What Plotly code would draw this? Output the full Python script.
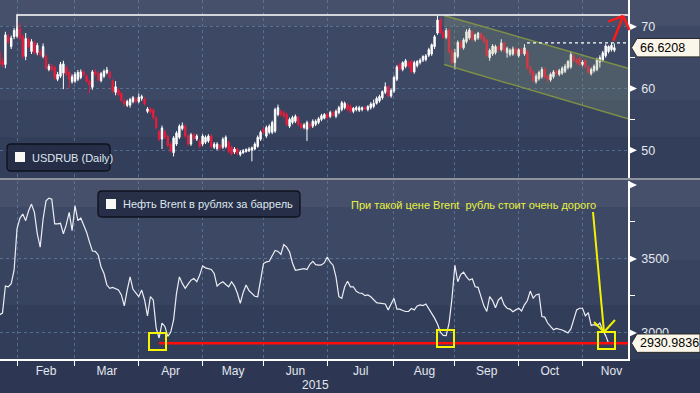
import plotly.graph_objects as go
import pandas as pd

# ---------------- data ----------------
trade_dates = pd.bdate_range("2015-01-23", periods=213)

usd_open = [65.8,64.4,63.9,68.4,66.8,68.4,68.5,69.7,68.4,65.2,68.0,66.0,67.4,65.8,66.0,65.2,65.2,63.1,63.6,63.4,
61.5,62.0,62.5,63.4,62.6,61.1,61.2,61.5,61.8,62.7,62.0,61.2,60.2,62.7,62.5,61.3,62.0,62.6,62.6,61.2,
59.4,59.8,59.2,58.0,57.3,57.3,57.9,58.3,57.9,58.4,58.3,56.3,56.7,56.5,55.2,53.0,51.8,53.0,52.2,51.0,
49.6,51.0,52.1,53.5,53.9,52.3,51.0,52.5,51.8,51.5,51.0,51.3,51.5,52.3,50.5,50.3,50.8,50.5,50.6,51.3,
50.5,49.7,50.2,49.3,49.6,49.8,49.9,50.0,50.2,50.6,51.8,53.4,52.3,52.9,52.9,53.1,55.8,56.3,56.1,55.8,
53.9,54.5,54.7,55.3,54.2,53.7,53.4,54.2,53.9,54.2,54.5,55.0,55.2,55.8,55.5,56.1,55.5,56.1,56.6,56.9,
57.4,57.1,56.3,56.6,56.5,56.6,56.9,56.6,56.9,57.1,57.6,58.0,58.5,59.4,60.3,58.8,59.6,61.5,63.9,63.1,
63.6,64.2,64.4,62.7,63.7,64.2,64.6,64.7,65.4,65.6,66.8,69.0,71.1,69.0,68.3,69.4,66.0,64.2,65.2,67.5,
66.6,67.6,68.2,69.2,67.9,68.2,68.9,68.4,67.8,65.0,65.6,65.8,66.8,66.3,67.4,65.8,65.5,65.6,66.5,65.3,
66.3,65.6,66.0,63.4,62.7,61.1,61.6,61.9,63.1,62.0,61.4,61.9,62.8,62.3,62.5,62.8,63.4,63.5,65.3,64.6,
64.9,63.9,64.5,63.5,62.4,62.9,63.1,64.3,64.6,65.3,66.0,66.3,66.2]
usd_high = [66.4,65.0,69.2,68.9,68.6,69.8,70.0,70.6,68.8,69.0,68.3,68.0,67.8,67.4,66.4,67.3,65.6,64.0,64.0,63.7,
62.7,64.3,64.5,63.7,62.9,62.3,62.7,63.0,63.1,63.0,62.3,61.5,63.0,63.2,62.8,62.7,63.1,63.5,62.9,61.5,
61.2,60.1,59.5,58.3,58.2,58.5,58.8,58.6,59.2,59.0,58.6,57.0,57.0,56.8,55.5,53.3,54.0,53.3,52.5,51.3,
52.3,53.1,54.2,54.5,54.2,52.6,52.8,52.8,52.6,51.8,52.6,52.4,52.6,52.6,51.3,51.3,51.0,52.1,52.4,51.6,
50.8,50.5,50.4,50.0,50.2,50.3,50.5,50.6,51.3,52.4,53.2,53.7,54.0,54.2,54.8,56.9,57.4,56.6,56.4,56.1,
55.3,55.6,55.8,55.6,54.5,54.4,54.8,54.5,55.0,55.0,55.4,55.9,56.0,56.1,56.4,56.4,56.6,57.2,58.0,57.9,
57.7,57.4,57.0,57.2,57.2,57.1,57.1,57.3,57.8,58.2,58.7,59.0,59.7,61.0,60.6,60.0,62.1,63.8,64.2,64.4,
64.8,64.5,64.7,64.5,64.6,64.9,65.4,65.6,66.6,67.3,68.7,71.8,71.5,69.5,69.8,69.8,66.4,66.4,67.8,67.8,
68.2,69.6,69.8,69.5,68.9,69.2,69.1,68.6,68.1,66.5,67.2,67.1,67.0,68.0,67.6,66.8,66.5,66.8,66.7,66.5,
66.6,67.2,66.3,63.7,63.0,62.4,62.9,63.5,63.4,62.3,62.6,63.0,63.1,63.2,63.6,64.0,64.6,66.0,65.6,64.9,
65.2,64.6,64.8,63.8,63.4,63.9,65.0,65.4,66.1,67.2,67.0,67.4,67.3]
usd_low = [63.5,63.4,63.3,67.2,66.4,68.0,68.2,67.8,64.9,64.6,66.5,65.6,65.5,65.4,65.1,64.9,63.0,62.8,62.8,61.4,
61.2,61.7,59.9,62.0,60.0,60.8,60.9,61.2,61.5,61.9,60.9,59.2,59.8,62.0,61.1,61.0,61.7,62.3,61.5,59.3,
58.9,58.7,57.8,57.1,57.0,56.9,57.6,57.6,57.6,58.0,57.2,56.0,55.9,55.0,53.4,51.5,50.2,51.8,50.5,49.6,
49.0,50.7,51.8,53.2,52.0,50.7,50.7,51.6,51.5,50.3,50.7,51.0,51.2,50.3,50.2,50.0,50.0,50.2,50.3,49.5,
49.1,49.4,49.2,49.0,49.4,49.6,49.7,48.2,50.0,50.4,51.5,52.6,52.0,52.6,52.6,52.8,55.5,55.5,55.2,53.9,
53.6,54.2,54.4,53.9,53.4,53.4,51.5,53.5,53.6,53.9,54.2,54.7,55.0,55.0,55.2,55.4,55.2,55.8,56.3,56.6,
56.3,56.0,56.0,56.3,56.2,56.3,56.5,56.3,56.6,56.8,57.4,57.7,58.2,59.1,58.6,58.5,59.3,61.2,62.9,62.8,
63.3,63.3,62.5,62.4,63.4,63.9,64.3,64.4,65.1,65.3,66.4,68.7,68.8,68.0,68.0,65.7,63.9,63.1,64.9,66.3,
66.3,67.3,67.9,67.6,67.6,67.9,67.9,67.3,65.1,64.5,65.3,65.5,66.0,66.0,65.8,65.0,65.2,65.3,65.4,65.0,
65.5,65.3,63.1,62.2,61.0,60.8,61.3,61.6,61.6,60.9,61.1,61.6,62.1,62.0,62.2,62.5,63.1,63.2,64.2,63.9,
63.6,63.6,63.3,62.3,62.1,62.6,62.8,63.4,64.3,65.0,65.7,66.0,65.9]
usd_close = [63.9,63.9,68.7,67.6,68.2,69.4,69.6,68.2,65.2,68.1,66.8,67.6,65.8,67.0,65.5,66.8,63.4,63.6,63.1,61.8,
62.3,63.9,64.0,62.3,61.5,61.9,62.3,62.6,62.7,62.2,61.2,60.6,62.7,62.4,61.4,62.4,62.8,63.0,61.8,59.6,
60.3,59.0,58.1,57.5,57.9,58.2,58.5,57.9,58.6,58.7,57.5,56.7,56.2,55.3,53.7,51.8,53.6,52.1,50.8,49.9,
52.0,52.8,53.9,54.0,52.3,51.0,52.5,51.9,52.3,50.6,52.3,52.1,52.3,50.6,51.0,51.0,50.3,51.8,52.1,49.8,
49.4,50.2,49.5,49.7,49.9,50.1,50.2,50.4,51.0,52.1,52.9,52.9,53.7,53.9,54.5,56.6,56.9,55.8,55.5,54.2,
55.0,55.3,55.5,54.2,53.7,54.1,54.5,53.8,54.7,54.7,55.1,55.6,55.8,55.3,56.1,55.7,56.3,56.9,57.7,57.6,
56.6,56.3,56.8,56.9,56.9,56.9,56.7,57.1,57.5,57.6,58.4,58.7,59.5,60.3,58.8,59.7,61.8,63.5,63.1,64.2,
64.5,63.6,62.7,64.2,64.4,64.6,65.2,65.3,66.3,67.1,68.4,71.1,69.0,68.3,69.4,66.0,64.2,65.8,67.5,66.6,
67.9,69.2,69.5,67.9,68.7,69.0,68.2,67.6,65.4,66.2,66.9,66.8,66.3,67.4,66.1,66.5,66.2,66.4,65.7,66.3,
65.8,66.6,63.4,62.6,61.3,62.0,62.6,63.1,61.9,61.5,62.3,62.7,62.4,62.9,63.3,63.6,64.4,65.5,64.5,64.2,
63.9,64.3,63.6,62.6,63.1,63.6,64.7,65.0,65.8,66.9,66.8,67.0,66.6208]

brent_rub = [3123,3134,3317,3312,3333,3424,3703,3775,3804,3759,3826,3871,3815,3670,3580,3770,3893,3911,3904,3737,
3737,3741,3670,3732,3815,3692,3860,3759,3777,3726,3681,3614,3554,3551,3527,3446,3402,3324,3301,3308,
3301,3290,3257,3183,3290,3379,3295,3272,3245,3290,3223,3116,3245,3223,3033,2966,3067,3044,2977,3004,
3089,3268,3379,3335,3301,3330,3357,3368,3346,3391,3453,3440,3435,3429,3402,3317,3335,3346,3328,3312,
3346,3317,3268,3201,3274,3324,3286,3268,3248,3245,3353,3469,3480,3484,3522,3558,3551,3531,3598,3580,
3547,3473,3424,3429,3429,3435,3429,3464,3484,3462,3458,3460,3475,3513,3478,3458,3379,3245,3234,3312,
3350,3312,3312,3281,3270,3268,3252,3257,3245,3221,3205,3201,3196,3196,3156,3196,3234,3161,3161,3152,
3145,3145,3165,3156,3183,3190,3185,3196,3167,3134,3100,3060,3006,2984,2982,3067,3234,3458,3346,3395,
3411,3379,3357,3366,3312,3308,3245,3183,3145,3245,3219,3170,3223,3241,3190,3167,3161,3143,3156,3167,
3149,3190,3219,3283,3236,3257,3263,3111,3107,3067,3044,3022,3031,3027,3020,3011,3000,3027,3094,3156,
3167,3167,3116,3138,3051,3056,3049,3067,3018,2982,2930.9836]

month_starts = ["2015-02-02", "2015-03-02", "2015-04-01", "2015-05-01", "2015-06-01",
                "2015-07-01", "2015-08-03", "2015-09-01", "2015-10-01", "2015-11-02"]
month_label_pos = ["2015-02-16", "2015-03-17", "2015-04-16", "2015-05-15 12:00", "2015-06-16",
                   "2015-07-16 12:00", "2015-08-17 12:00", "2015-09-16", "2015-10-15 18:00", "2015-11-16"]
month_labels = ["Feb", "Mar", "Apr", "May", "Jun", "Jul", "Aug", "Sep", "Oct", "Nov"]

usd_ticks = [50, 60, 70]
usd_minor = [55, 65]
brent_ticks = [3000, 3500]
brent_minor = [3250, 3750, 4000]

# drawn annotation levels
resist_x = ["2015-02-02", "2015-02-02"]
resist_y = [69.5, 71.9]
dotted_start = "2015-10-05 21:00"
dotted_level = 67.4
chan_start = "2015-08-26 07:00"
chan_upper = [71.85, 63.3]
chan_lower = [63.9, 55.1]

X_RANGE = ["2015-01-23 03:20", "2015-11-23 16:48"]
Y1_RANGE = [45.5, 74.35]
Y2_RANGE = [2824, 4027]

# ---------------- geometry helpers ----------------
W, H = 700, 393
ML, MR, MT, MB = 0, 72, 0, 34
PW, PH = W - ML - MR, H - MT - MB
TOP_PIX = (0, 178)
BOT_PIX = (181, 359)


def px(x):
    return (x - ML) / PW


def py(y):
    return 1 - (y - MT) / PH


def ypix(v, pix, rng):
    return pix[0] + (rng[1] - v) / (rng[1] - rng[0]) * (pix[1] - pix[0])


FONT = "Liberation Sans, Arial, sans-serif"
GRID = "rgba(95,125,160,0.75)"
TXT = "#e3e7ef"

fig = go.Figure()

# channel fill + lines
fig.add_trace(go.Scatter(x=[chan_start, X_RANGE[1], X_RANGE[1], chan_start],
                         y=[chan_upper[0], chan_upper[1], chan_lower[1], chan_lower[0]],
                         fill="toself", fillcolor="rgba(150,170,120,0.20)", line=dict(width=0),
                         mode="lines", hoverinfo="skip", showlegend=False, xaxis="x", yaxis="y"))
for lv in (chan_upper, chan_lower):
    fig.add_trace(go.Scatter(x=[chan_start, X_RANGE[1]], y=lv, mode="lines",
                             line=dict(color="rgba(135,155,65,0.85)", width=1.5),
                             hoverinfo="skip", showlegend=False, xaxis="x", yaxis="y"))

# resistance line
fig.add_trace(go.Scatter(x=resist_x + [X_RANGE[1]], y=resist_y + [resist_y[1]], mode="lines",
                         line=dict(color="white", width=1.5), hoverinfo="skip",
                         showlegend=False, xaxis="x", yaxis="y"))
# dotted level
fig.add_trace(go.Scatter(x=[dotted_start, X_RANGE[1]], y=[dotted_level, dotted_level], mode="lines",
                         line=dict(color="white", width=1.2, dash="dot"), hoverinfo="skip",
                         showlegend=False, xaxis="x", yaxis="y"))

fig.add_trace(go.Candlestick(
    x=trade_dates, open=usd_open, high=usd_high, low=usd_low, close=usd_close,
    increasing=dict(line=dict(color="white", width=1), fillcolor="white"),
    decreasing=dict(line=dict(color="#e41e3c", width=1), fillcolor="#e41e3c"),
    whiskerwidth=0, showlegend=False, xaxis="x", yaxis="y"))

fig.add_trace(go.Scatter(x=trade_dates[:len(brent_rub)], y=brent_rub, mode="lines",
                         line=dict(color="#eceef4", width=1.2), showlegend=False,
                         xaxis="x2", yaxis="y2"))

shapes = []
# background bands
bands = [(0, 26, "#46506b"), (26, 100, "#3d4865"), (100, 137, "#38435f"), (137, 179, "#333e5a"),
         (179, 207, "#46506b"), (207, 260, "#3d4865"), (260, 305, "#38435f"), (305, 359, "#323d59"),
         (359, 393, "#2d3753")]
for y0, y1, c in bands:
    shapes.append(dict(type="rect", xref="paper", yref="paper", x0=px(0), x1=px(W), y0=py(y1), y1=py(y0),
                       fillcolor=c, line=dict(width=0), layer="below"))
# panel separator
shapes.append(dict(type="line", xref="paper", yref="paper", x0=px(0), x1=px(W), y0=py(179), y1=py(179),
                   line=dict(color="#8e939e", width=2)))


def roundrect(x0, y0, x1, y1, r):
    X0, X1 = px(x0), px(x1)
    Y0, Y1 = py(y0), py(y1)
    rx, ry = r / PW, r / PH
    return (f"M{X0+rx},{Y0} L{X1-rx},{Y0} Q{X1},{Y0} {X1},{Y0-ry} L{X1},{Y1+ry} Q{X1},{Y1} {X1-rx},{Y1} "
            f"L{X0+rx},{Y1} Q{X0},{Y1} {X0},{Y1+ry} L{X0},{Y0-ry} Q{X0},{Y0} {X0+rx},{Y0} Z")


for (x0, y0, x1, y1), (sx, sy) in [((7, 144, 110, 171), (15, 152)), ((98, 191, 300, 217), (106, 199))]:
    shapes.append(dict(type="path", xref="paper", yref="paper", path=roundrect(x0, y0, x1, y1, 4),
                       fillcolor="rgba(36,44,68,0.9)", line=dict(color="#0e121c", width=1.3)))
    shapes.append(dict(type="rect", xref="paper", yref="paper", x0=px(sx), x1=px(sx + 10),
                       y0=py(sy + 10), y1=py(sy), fillcolor="#faf8f2", line=dict(width=0)))

# axis triangles
tri = []
for v in [50, 60, 70]:
    tri.append(ypix(v, TOP_PIX, Y1_RANGE))
for v in [3000, 3500, 4000]:
    tri.append(ypix(v, BOT_PIX, Y2_RANGE))
for yc in tri:
    shapes.append(dict(type="path", xref="paper", yref="paper",
                       path=f"M{px(629.5)},{py(yc-3.5)} L{px(629.5)},{py(yc+3.5)} L{px(637)},{py(yc)} Z",
                       fillcolor="white", line=dict(width=0)))

# red support line
red_y = brent_rub[-1]
shapes.append(dict(type="line", xref="paper", yref="y2", x0=px(159), x1=px(628), y0=red_y, y1=red_y,
                   line=dict(color="#ff0d0d", width=2.5)))
# yellow squares
for x0, y0 in [(149, 333), (437, 330), (598, 332)]:
    shapes.append(dict(type="rect", xref="paper", yref="paper", x0=px(x0), x1=px(x0 + 17),
                       y0=py(y0 + 17), y1=py(y0), line=dict(color="#f5f500", width=2)))
# yellow arrow
for (a, b), (c, d) in [((593, 212), (604, 332)), ((594, 322), (604, 332)), ((615, 320), (604, 332))]:
    shapes.append(dict(type="line", xref="paper", yref="paper", x0=px(a), y0=py(b), x1=px(c), y1=py(d),
                       line=dict(color="#f2f200", width=2)))
# red arrow
for (a, b), (c, d) in [((613.3, 40.7), (623.3, 15.8)), ((608.3, 21.7), (623.3, 15.8)), ((623.3, 15.8), (629.3, 30))]:
    shapes.append(dict(type="line", xref="paper", yref="paper", x0=px(a), y0=py(b), x1=px(c), y1=py(d),
                       line=dict(color="#ff1a1a", width=2.5)))

# value boxes
last_usd_pix = ypix(usd_close[-1], TOP_PIX, Y1_RANGE)
last_brent_pix = ypix(brent_rub[-1], BOT_PIX, Y2_RANGE)
for yc in (last_usd_pix, last_brent_pix):
    shapes.append(dict(type="path", xref="paper", yref="paper",
                       path=(f"M{px(631.5)},{py(yc)} L{px(637)},{py(yc-9.2)} L{px(700)},{py(yc-9.2)} "
                             f"L{px(700)},{py(yc+9.2)} L{px(637)},{py(yc+9.2)} Z"),
                       fillcolor="#fbf6ea", line=dict(color="#2a2a2a", width=1)))

annotations = [
    dict(text="USDRUB (Daily)", x=px(30), y=py(158), xref="paper", yref="paper", xanchor="left",
         yanchor="middle", showarrow=False, font=dict(family=FONT, size=11, color="#dfe6f0")),
    dict(text="Нефть Brent в рублях за баррель", x=px(121), y=py(204), xref="paper", yref="paper",
         xanchor="left", yanchor="middle", showarrow=False, font=dict(family=FONT, size=11, color="#dfe6f0")),
    dict(text="При такой цене Brent  рубль стоит очень дорого", x=px(349), y=py(205), xref="paper",
         yref="paper", xanchor="left", yanchor="middle", showarrow=False,
         font=dict(family=FONT, size=11, color="#e8f040")),
    dict(text=f"{usd_close[-1]:.4f}", x=px(638), y=py(last_usd_pix), xref="paper", yref="paper",
         xanchor="left", yanchor="middle", showarrow=False, font=dict(family=FONT, size=12.5, color="black")),
    dict(text=f"{brent_rub[-1]:.4f}", x=px(637.5), y=py(last_brent_pix), xref="paper", yref="paper",
         xanchor="left", yanchor="middle", showarrow=False, font=dict(family=FONT, size=12.5, color="black")),
    dict(text="2015", x=px(315), y=py(385), xref="paper", yref="paper", xanchor="center", yanchor="middle",
         showarrow=False, font=dict(family=FONT, size=12, color=TXT)),
]

rb = [dict(bounds=["sat", "mon"])]
common_x = dict(type="date", range=X_RANGE, rangebreaks=rb, showgrid=False, zeroline=False,
                minor=dict(tickvals=month_starts, showgrid=True, gridcolor=GRID, griddash="3px,3px", gridwidth=1))

fig.update_layout(
    width=W, height=H, margin=dict(l=ML, r=MR, t=MT, b=MB),
    paper_bgcolor="#2d3753", plot_bgcolor="rgba(0,0,0,0)",
    font=dict(family=FONT, color=TXT),
    showlegend=False, hovermode=False,
    xaxis=dict(**common_x, anchor="y", domain=[0, 1], showticklabels=False, ticks="",
               tickvals=month_label_pos, rangeslider=dict(visible=False)),
    xaxis2=dict(type="date", range=X_RANGE, rangebreaks=rb, showgrid=False, zeroline=False,
                anchor="y2", domain=[0, 1], tickvals=month_label_pos, ticktext=month_labels,
                ticks="", tickcolor="rgba(0,0,0,0)",
                tickfont=dict(family=FONT, size=12, color=TXT),
                showline=True, linecolor="white", linewidth=1.5,
                minor=dict(tickvals=month_starts, ticks="outside", ticklen=5, tickcolor="white",
                           showgrid=True, gridcolor=GRID, griddash="3px,3px", gridwidth=1),
                rangeslider=dict(visible=False)),
    yaxis=dict(domain=[1 - TOP_PIX[1] / PH, 1], anchor="x", side="right", range=Y1_RANGE,
               tickvals=usd_ticks, ticks="outside", ticklen=9, tickcolor="rgba(0,0,0,0)",
               tickfont=dict(family=FONT, size=12.5, color=TXT),
               showgrid=True, gridcolor=GRID, griddash="3px,3px", zeroline=False,
               showline=True, linecolor="white", linewidth=1.5,
               minor=dict(tickvals=usd_minor, ticks="outside", ticklen=5, tickcolor="white", showgrid=False)),
    yaxis2=dict(domain=[0, 1 - BOT_PIX[0] / PH], anchor="x2", side="right", range=Y2_RANGE,
                tickvals=brent_ticks, ticks="outside", ticklen=9, tickcolor="rgba(0,0,0,0)",
                tickfont=dict(family=FONT, size=12.5, color=TXT),
                showgrid=True, gridcolor=GRID, griddash="3px,3px", zeroline=False,
                showline=True, linecolor="white", linewidth=1.5,
                minor=dict(tickvals=brent_minor, ticks="outside", ticklen=5, tickcolor="white", showgrid=False)),
    shapes=shapes, annotations=annotations,
)

fig.write_html("out.html", config={"displayModeBar": False},
               post_script="document.body.style.margin='0';document.body.style.padding='0';"
                           "document.body.style.overflow='hidden';")
